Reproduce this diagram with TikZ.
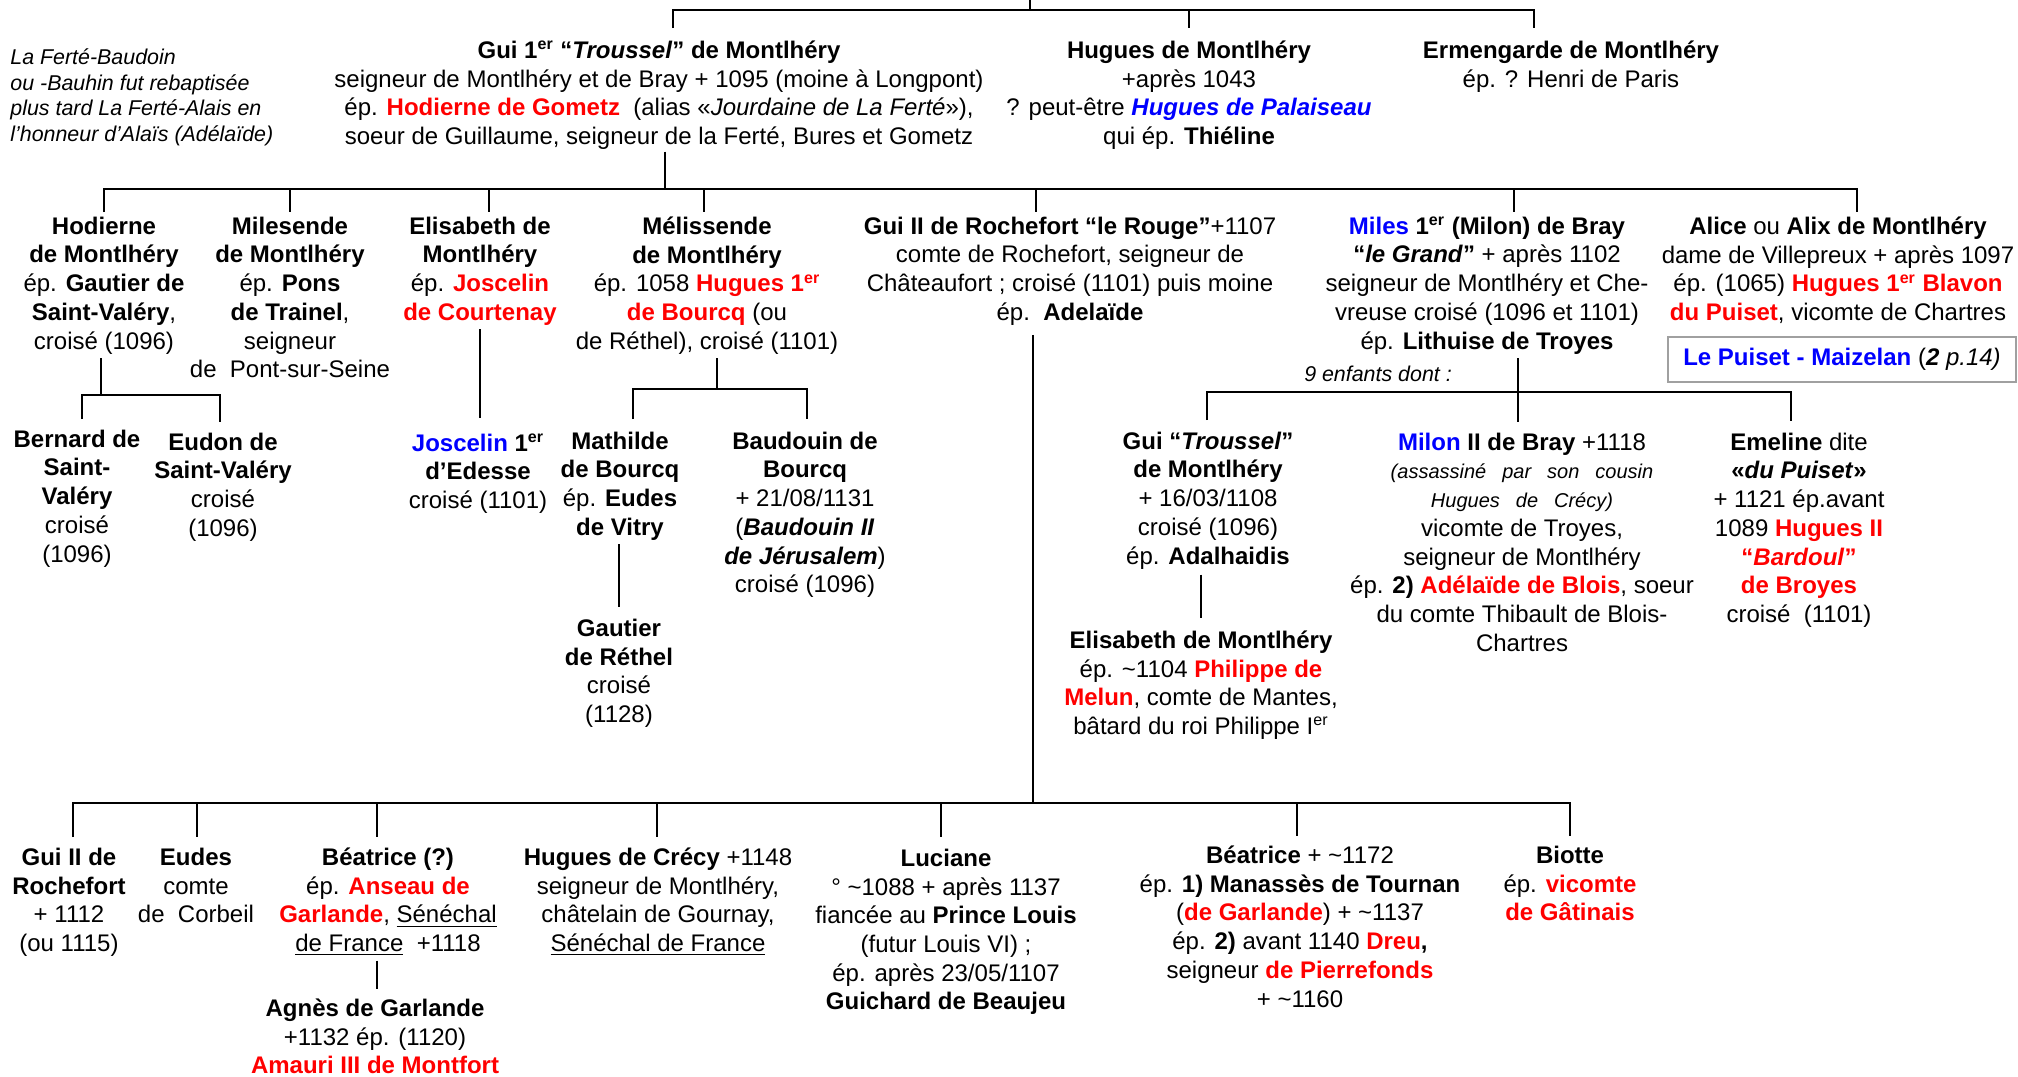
\documentclass[tikz,border=0pt]{standalone}
\usepackage{fontspec}
\setmainfont{Liberation Sans}
\usetikzlibrary{calc}
\definecolor{boxgray}{RGB}{160,160,160}
\newcommand{\redb}[1]{\textcolor{red}{\textbf{#1}}}
\newcommand{\blueb}[1]{\textcolor{blue}{\textbf{#1}}}
\newcommand{\supr}{\textsuperscript{er}}
\newcommand{\sitl}[1]{{\fontsize{10}{14.35}\selectfont\itshape\spaceskip=8pt #1}}
\begin{document}
\begin{tikzpicture}[x=0.5pt,y=-0.5pt,
  pers/.style={anchor=north, inner sep=0pt, align=center, yshift=-1.25pt,
    font=\fontsize{12}{14.35}\selectfont, execute at begin node=\strut},
  note/.style={anchor=north west, inner sep=0pt, align=left,
    font=\fontsize{10.7}{12.75}\selectfont\itshape, execute at begin node=\strut},
  bar/.style={line width=1.4pt},
  thinbar/.style={line width=1pt}]
\useasboundingbox (0,0) rectangle (2018,1076);

% ---------- top generation ----------
\node[note] (note) at (10,48.5) {La Ferté-Baudoin\\ ou -Bauhin fut rebaptisée\\ plus tard La Ferté-Alais en\\ l’honneur d’Alaïs (Adélaïde)};

\node[pers] (gui1) at (659,38) {\textbf{Gui 1\supr{} “\textit{Troussel}” de Montlhéry}\\
seigneur de Montlhéry et de Bray + 1095 (moine à Longpont)\\
ép. \redb{Hodierne de Gometz}\ \ (alias «\textit{Jourdaine de La Ferté}»),\\
soeur de Guillaume, seigneur de la Ferté, Bures et Gometz};

\node[pers] (hugues) at (1189,38) {\textbf{Hugues de Montlhéry}\\ +après 1043\\
? peut-être \textcolor{blue}{\textbf{\textit{Hugues de Palaiseau}}}\\ qui ép. \textbf{Thiéline}};

\node[pers] (ermen) at (1571,38) {\textbf{Ermengarde de Montlhéry}\\ ép. ? Henri de Paris};

% ---------- second generation ----------
\node[pers] (hodierne) at (104,214) {\textbf{Hodierne}\\ \textbf{de Montlhéry}\\ ép. \textbf{Gautier de}\\ \textbf{Saint-Valéry},\\ croisé (1096)};
\node[pers] (milesende) at (290,214) {\textbf{Milesende}\\ \textbf{de Montlhéry}\\ ép. \textbf{Pons}\\ \textbf{de Trainel},\\ seigneur\\ de\ \ Pont-sur-Seine};
\node[pers] (elisabeth) at (480,214) {\textbf{Elisabeth de}\\ \textbf{Montlhéry}\\ ép. \redb{Joscelin}\\ \redb{de Courtenay}};
\node[pers] (melissende) at (707,214) {\textbf{Mélissende}\\ \textbf{de Montlhéry}\\ ép. 1058 \redb{Hugues 1\supr}\\ \redb{de Bourcq} (ou\\ de Réthel), croisé (1101)};
\node[pers] (guiII) at (1070,214) {\textbf{Gui II de Rochefort “le Rouge”}+1107\\ comte de Rochefort, seigneur de\\ Châteaufort ; croisé (1101) puis moine\\ ép.\ \ \textbf{Adelaïde}};
\node[pers] (miles) at (1487,214) {\blueb{Miles} \textbf{1\supr{} (Milon) de Bray}\\ \textbf{“\textit{le Grand}”} + après 1102\\ seigneur de Montlhéry et Che-\\ vreuse croisé (1096 et 1101)\\ ép. \textbf{Lithuise de Troyes}};
\node[pers] (alice) at (1838,214) {\textbf{Alice} ou \textbf{Alix de Montlhéry}\\ dame de Villepreux + après 1097\\ ép. (1065) \redb{Hugues 1\supr{} Blavon}\\ \redb{du Puiset}, vicomte de Chartres};

\node[draw=boxgray, line width=0.75pt, minimum width=174pt, minimum height=22.5pt, inner sep=0pt,
  font=\fontsize{12}{14.35}\selectfont] (puiset) at (1842,359.5)
  {\blueb{Le Puiset - Maizelan} (\textbf{\textit{2}} \textit{p.14)}};

% ---------- third generation ----------
\node[pers] (bernard) at (77,427) {\textbf{Bernard de}\\ \textbf{Saint-}\\ \textbf{Valéry}\\ croisé\\ (1096)};
\node[pers] (eudon) at (223,430) {\textbf{Eudon de}\\ \textbf{Saint-Valéry}\\ croisé\\ (1096)};
\node[pers] (joscelin) at (478,431) {\blueb{Joscelin} \textbf{1\supr}\\ \textbf{d’Edesse}\\ croisé (1101)};
\node[pers] (mathilde) at (620,429) {\textbf{Mathilde}\\ \textbf{de Bourcq}\\ ép. \textbf{Eudes}\\ \textbf{de Vitry}};
\node[pers] (baudouin) at (805,429) {\textbf{Baudouin de}\\ \textbf{Bourcq}\\ + 21/08/1131\\ (\textbf{\textit{Baudouin II}}\\ \textbf{\textit{de Jérusalem}})\\ croisé (1096)};
\node[font=\fontsize{10.7}{12.75}\selectfont\itshape, inner sep=0pt] (nine) at (1378,374) {9 enfants dont :};
\node[pers] (guitrou) at (1208,429) {\textbf{Gui “\textit{Troussel}”}\\ \textbf{de Montlhéry}\\ + 16/03/1108\\ croisé (1096)\\ ép. \textbf{Adalhaidis}};
\node[pers] (milon) at (1522,430) {\blueb{Milon} \textbf{II de Bray} +1118\\ \sitl{(assassiné par son cousin}\\ \sitl{Hugues de Crécy)}\\ vicomte de Troyes,\\ seigneur de Montlhéry\\ ép. \textbf{2)} \redb{Adélaïde de Blois}, soeur\\ du comte Thibault de Blois-\\ Chartres};
\node[pers] (emeline) at (1799,430) {\textbf{Emeline} dite\\ \textbf{«\textit{du Puiset}»}\\ + 1121 ép.avant\\ 1089 \redb{Hugues II}\\ \textcolor{red}{\textbf{“\textit{Bardoul}”}}\\ \redb{de Broyes}\\ croisé\ \ (1101)};

\node[pers] (gautier) at (619,616) {\textbf{Gautier}\\ \textbf{de Réthel}\\ croisé\\ (1128)};
\node[pers] (elisab2) at (1201,628) {\textbf{Elisabeth de Montlhéry}\\ ép. \textasciitilde1104 \redb{Philippe de}\\ \redb{Melun}, comte de Mantes,\\ bâtard du roi Philippe I\supr};

% ---------- children of Gui II ----------
\node[pers] (guiIIr) at (69,845) {\textbf{Gui II de}\\ \textbf{Rochefort}\\ + 1112\\ (ou 1115)};
\node[pers] (eudes) at (196,845) {\textbf{Eudes}\\ comte\\ de\ \ Corbeil};
\node[pers] (beat1) at (388,845) {\textbf{Béatrice (?)}\\ ép. \redb{Anseau de}\\ \redb{Garlande}, \underline{Sénéchal}\\ \underline{de France}\ \ +1118};
\node[pers] (agnes) at (375,996) {\textbf{Agnès de Garlande}\\ +1132 ép. (1120)\\ \redb{Amauri III de Montfort}};
\node[pers] (hugcrecy) at (658,845) {\textbf{Hugues de Crécy} +1148\\ seigneur de Montlhéry,\\ châtelain de Gournay,\\ \underline{Sénéchal de France}};
\node[pers] (luciane) at (946,846) {\textbf{Luciane}\\ ° \textasciitilde1088 + après 1137\\ fiancée au \textbf{Prince Louis}\\ (futur Louis VI) ;\\ ép. après 23/05/1107\\ \textbf{Guichard de Beaujeu}};
\node[pers] (beat2) at (1300,843) {\textbf{Béatrice} + \textasciitilde1172\\ ép. \textbf{1) Manassès de Tournan}\\ (\redb{de Garlande}) + \textasciitilde1137\\ ép. \textbf{2)} avant 1140 \redb{Dreu}\textbf{,}\\ seigneur \redb{de Pierrefonds}\\ + \textasciitilde1160};
\node[pers] (biotte) at (1570,843) {\textbf{Biotte}\\ ép. \redb{vicomte}\\ \redb{de Gâtinais}};

% ---------- connectors ----------
% top
\coordinate (t0) at (1030,0);
\coordinate (tL) at (673,10);
\coordinate (tH) at (1189,10);
\coordinate (tR) at (1534,10);
\draw[bar] (t0) -- (t0 |- tL);
\draw[bar, shorten <=6.25pt, shorten >=6.25pt] (gui1.north -| tL) -- (tL) -- (tR) -- (ermen.north -| tR);
\draw[bar, shorten >=6.25pt] (tH) -- (hugues.north -| tH);

% Gui 1er -> children
\coordinate (v1) at (665,189);
\coordinate (g2L) at (104,189);
\coordinate (g2R) at (1857,189);
\coordinate (g2b) at (290,189);
\coordinate (g2c) at (489,189);
\coordinate (g2d) at (704,189);
\coordinate (g2e) at (1036,189);
\coordinate (g2f) at (1514,189);
\draw[bar, shorten <=-1pt] (gui1.south -| v1) -- (v1);
\draw[bar, shorten <=2.25pt, shorten >=2.25pt] (hodierne.north -| g2L) -- (g2L) -- (g2R) -- (alice.north -| g2R);
\draw[bar, shorten >=2.25pt] (g2b) -- (milesende.north -| g2b);
\draw[bar, shorten >=2.25pt] (g2c) -- (elisabeth.north -| g2c);
\draw[bar, shorten >=2.25pt] (g2d) -- (melissende.north -| g2d);
\draw[bar, shorten >=2.25pt] (g2e) -- (guiII.north -| g2e);
\draw[bar, shorten >=2.25pt] (g2f) -- (miles.north -| g2f);

% Hodierne -> children
\coordinate (h1) at (101,395);
\coordinate (hL) at (82,395);
\coordinate (hR) at (220,395);
\draw[bar] (hodierne.south -| h1) -- (h1);
\draw[bar, shorten <=5.25pt, shorten >=5.25pt] (bernard.north -| hL) -- (hL) -- (hR) -- (eudon.north -| hR);

% Elisabeth -> Joscelin
\coordinate (j1) at (480,0);
\draw[bar, shorten >=7.75pt] (elisabeth.south -| j1) -- (joscelin.north -| j1);

% Melissende -> children
\coordinate (m1) at (717,389);
\coordinate (mL) at (633,389);
\coordinate (mR) at (807,389);
\draw[bar] (melissende.south -| m1) -- (m1);
\draw[bar, shorten <=6.25pt, shorten >=6.25pt] (mathilde.north -| mL) -- (mL) -- (mR) -- (baudouin.north -| mR);

% Mathilde -> Gautier
\coordinate (ga) at (619,0);
\draw[thinbar, shorten >=5.75pt] (mathilde.south -| ga) -- (gautier.north -| ga);

% Miles -> children
\coordinate (s1) at (1518,392);
\coordinate (sL) at (1207,392);
\coordinate (sR) at (1791,392);
\draw[bar, shorten >=5.25pt] (miles.south -| s1) -- (milon.north -| s1);
\draw[bar, shorten <=5.75pt, shorten >=5.75pt] (guitrou.north -| sL) -- (sL) -- (sR) -- (emeline.north -| sR);

% Gui Troussel -> Elisabeth
\coordinate (gt) at (1201,0);
\draw[thinbar, shorten <=0.75pt, shorten >=6.25pt] (guitrou.south -| gt) -- (elisab2.north -| gt);

% Gui II -> children
\coordinate (r1) at (1033,803);
\coordinate (bL) at (73,803);
\coordinate (bR) at (1570,803);
\coordinate (b2) at (197,803);
\coordinate (b3) at (377,803);
\coordinate (b4) at (657,803);
\coordinate (b5) at (941,803);
\coordinate (b6) at (1297,803);
\draw[bar, shorten <=2.75pt] (guiII.south -| r1) -- (r1);
\draw[bar, shorten <=5.25pt, shorten >=4.75pt] (guiIIr.north -| bL) -- (bL) -- (bR) -- (biotte.north -| bR);
\draw[bar, shorten >=5.25pt] (b2) -- (eudes.north -| b2);
\draw[bar, shorten >=5.25pt] (b3) -- (beat1.north -| b3);
\draw[bar, shorten >=5.25pt] (b4) -- (hugcrecy.north -| b4);
\draw[bar, shorten >=5.75pt] (b5) -- (luciane.north -| b5);
\draw[bar, shorten >=4.75pt] (b6) -- (beat2.north -| b6);

% Beatrice -> Agnes
\coordinate (ag) at (377,0);
\draw[thinbar, shorten >=4.75pt] (beat1.south -| ag) -- (agnes.north -| ag);
\end{tikzpicture}
\end{document}
